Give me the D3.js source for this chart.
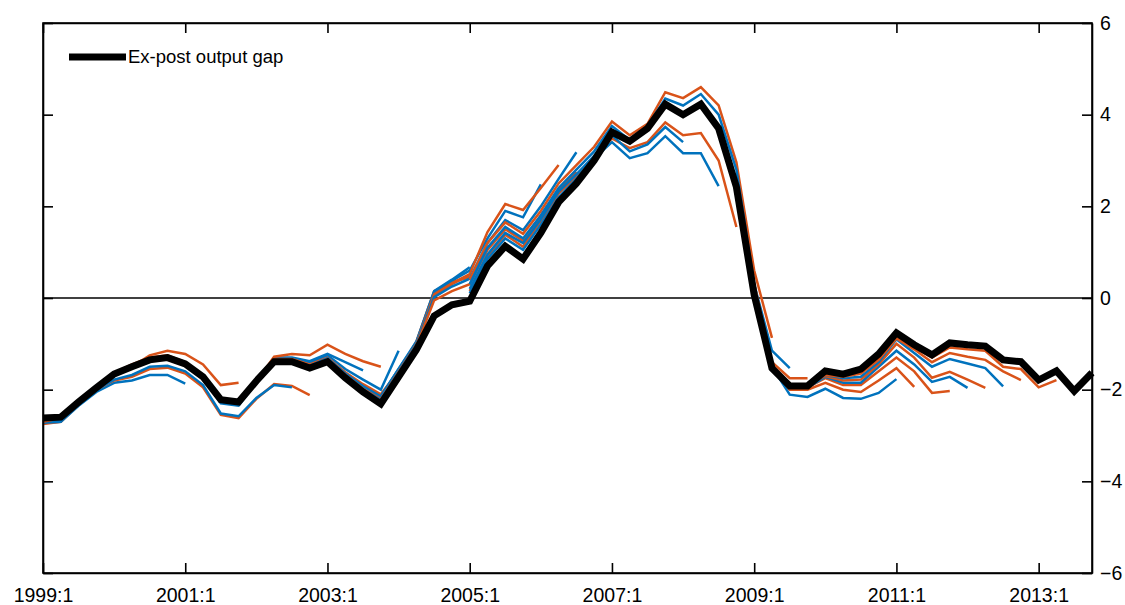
<!DOCTYPE html>
<html lang="en">
<head>
  <meta charset="UTF-8">
  <title>output gap vintages</title>
  <script src="https://d3js.org/d3.v7.min.js"></script>
  <style>
    body { margin: 0; padding: 0; background: #fff; }
    svg text { font-family: "Liberation Sans", Arial, sans-serif; }
  </style>
</head>
<body>
  <div id="chart"></div>
<script>
  // quarterly, 1999:1 .. 2013:4
  const startYear = 1999
  const nQuarters = 60
  const xTickLabels = ['1999:1', '2001:1', '2003:1', '2005:1', '2007:1', '2009:1', '2011:1', '2013:1']
  const yTicks = [-6, -4, -2, 0, 2, 4, 6]

  // ex-post output gap
  const gap = [-2.62, -2.6, -2.27, -1.96, -1.66, -1.5, -1.35, -1.3, -1.44, -1.72, -2.22, -2.27,
    -1.81, -1.39, -1.39, -1.53, -1.39, -1.74, -2.05, -2.31, -1.72, -1.13, -0.39, -0.15,
    -0.07, 0.7, 1.13, 0.85, 1.42, 2.09, 2.5, 3.0, 3.62, 3.42, 3.7, 4.23,
    4.0, 4.23, 3.7, 2.42, 0.07, -1.53, -1.92, -1.92, -1.59, -1.66, -1.55, -1.22,
    -0.76, -1.02, -1.24, -0.98, -1.02, -1.05, -1.35, -1.39, -1.79, -1.59, -2.03, -1.63]

  // real-time estimates: start quarter index, colour group, values
  const vintages = [
    { start: 0, c: 'o', v: [-2.72, -2.68, -2.3, -1.97, -1.68, -1.5, -1.25, -1.15, -1.22, -1.45, -1.9, -1.85] },
    { start: 0, c: 'b', v: [-2.72, -2.7, -2.35, -2.05, -1.85, -1.8, -1.68, -1.68, -1.87] },
    { start: 0, c: 'o', v: [-2.75, -2.7, -2.32, -2.0, -1.8, -1.72, -1.55, -1.52, -1.65, -1.95, -2.55, -2.62, -2.2, -1.88, -1.92, -2.12] },
    { start: 0, c: 'b', v: [-2.72, -2.7, -2.33, -2.0, -1.78, -1.68, -1.5, -1.48, -1.6, -1.9, -2.52, -2.58, -2.18, -1.9, -1.95] },
    { start: 0, c: 'b', v: [-2.7, -2.65, -2.3, -1.95, -1.65, -1.5, -1.35, -1.32, -1.45, -1.72, -2.3, -2.35, -1.85, -1.3, -1.3, -1.38, -1.22, -1.4, -1.58] },
    { start: 0, c: 'o', v: [-2.7, -2.62, -2.28, -1.95, -1.63, -1.45, -1.3, -1.25, -1.4, -1.7, -2.25, -2.3, -1.82, -1.28, -1.22, -1.25, -1.02, -1.22, -1.38, -1.5] },
    { start: 12, c: 'b', v: [-1.8, -1.35, -1.32, -1.42, -1.25, -1.55, -1.78, -2.0, -1.15] },
    { start: 12, c: 'o', v: [-1.8, -1.33, -1.33, -1.45, -1.3, -1.62, -1.88, -2.1, -1.6, -0.95, 0.15, 0.35, 0.45] },
    { start: 12, c: 'b', v: [-1.8, -1.35, -1.35, -1.48, -1.32, -1.65, -1.92, -2.15, -1.55, -0.95, 0.15, 0.4, 0.67] },
    { start: 12, c: 'o', v: [-1.8, -1.37, -1.37, -1.5, -1.35, -1.68, -1.98, -2.2, -1.62, -1.0, 0.05, 0.3, 0.5] },
    { start: 12, c: 'b', v: [-1.8, -1.36, -1.36, -1.48, -1.32, -1.65, -1.95, -2.15, -1.55, -0.98, 0.12, 0.38, 0.6, 1.3, 1.9, 1.76, 2.48] },
    { start: 12, c: 'o', v: [-1.8, -1.37, -1.38, -1.5, -1.34, -1.68, -1.98, -2.2, -1.6, -1.0, 0.08, 0.32, 0.52, 1.44, 2.05, 1.92, 2.4, 2.9] },
    { start: 12, c: 'b', v: [-1.8, -1.38, -1.38, -1.5, -1.35, -1.7, -2.0, -2.22, -1.62, -1.02, 0.02, 0.25, 0.42, 1.2, 1.7, 1.48, 2.0, 2.6, 3.18] },
    { start: 12, c: 'o', v: [-1.8, -1.38, -1.39, -1.52, -1.37, -1.72, -2.02, -2.25, -1.65, -1.05, -0.05, 0.15, 0.3, 1.05, 1.5, 1.25, 1.8, 2.35, 2.75] },
    { start: 24, c: 'o', v: [0.4, 1.2, 1.65, 1.4, 1.9, 2.5, 2.9, 3.3, 3.85, 3.55, 3.8, 4.49, 4.36, 4.6, 4.2, 2.96, 0.6, -0.87] },
    { start: 24, c: 'b', v: [0.3, 1.1, 1.55, 1.3, 1.8, 2.4, 2.8, 3.2, 3.75, 3.45, 3.75, 4.35, 4.2, 4.45, 4.0, 2.8, 0.3, -1.15, -1.53] },
    { start: 24, c: 'o', v: [0.15, 0.9, 1.38, 1.12, 1.68, 2.28, 2.65, 3.1, 3.48, 3.27, 3.4, 3.83, 3.55, 3.6, 3.0, 1.55] },
    { start: 24, c: 'b', v: [0.1, 0.85, 1.3, 1.05, 1.6, 2.2, 2.6, 3.05, 3.4, 3.05, 3.16, 3.53, 3.16, 3.16, 2.44] },
    { start: 24, c: 'b', v: [0.2, 0.95, 1.42, 1.2, 1.72, 2.32, 2.7, 3.1, 3.55, 3.2, 3.35, 3.73, 3.4] },
    { start: 38, c: 'o', v: [3.75, 2.55, 0.3, -1.4, -1.75, -1.75] },
    { start: 38, c: 'b', v: [3.75, 2.5, 0.1, -1.5, -2.11, -2.16, -1.98, -2.18, -2.2, -2.07, -1.77] },
    { start: 38, c: 'o', v: [3.75, 2.5, 0.1, -1.5, -2.0, -2.0, -1.85, -2.0, -2.05, -1.8, -1.53, -1.94] },
    { start: 38, c: 'o', v: [3.75, 2.5, 0.1, -1.5, -1.95, -1.95, -1.75, -1.9, -1.9, -1.6, -1.3, -1.6, -2.07, -2.03] },
    { start: 38, c: 'b', v: [3.75, 2.5, 0.1, -1.5, -1.95, -1.95, -1.72, -1.85, -1.85, -1.5, -1.15, -1.45, -1.83, -1.72, -1.96] },
    { start: 38, c: 'o', v: [3.75, 2.5, 0.1, -1.5, -1.9, -1.9, -1.7, -1.8, -1.78, -1.45, -1.0, -1.3, -1.74, -1.61, -1.78, -1.96] },
    { start: 38, c: 'b', v: [3.75, 2.5, 0.1, -1.5, -1.9, -1.9, -1.68, -1.75, -1.72, -1.4, -0.9, -1.2, -1.5, -1.33, -1.43, -1.53, -1.93] },
    { start: 38, c: 'o', v: [3.75, 2.5, 0.1, -1.5, -1.9, -1.9, -1.68, -1.72, -1.65, -1.35, -0.88, -1.12, -1.4, -1.2, -1.28, -1.35, -1.6, -1.79] },
    { start: 38, c: 'o', v: [3.75, 2.5, 0.1, -1.52, -1.88, -1.88, -1.62, -1.7, -1.6, -1.3, -0.85, -1.07, -1.3, -1.08, -1.12, -1.15, -1.5, -1.55, -1.95, -1.79] }
  ]

  const colors = { o: '#D95319', b: '#0072BD' }

  const W = 1125, H = 605
  const margin = { top: 23, right: 33, bottom: 32, left: 43 }

  const x = d3.scaleLinear().domain([0, nQuarters - 1]).range([margin.left, W - margin.right])
  const y = d3.scaleLinear().domain([-6, 6]).range([H - margin.bottom, margin.top])

  const svg = d3.select('#chart').append('svg')
    .attr('width', W).attr('height', H)

  const line = d3.line().x(d => x(d[0])).y(d => y(d[1]))

  // zero line
  svg.append('line')
    .attr('x1', x(0)).attr('x2', x(nQuarters - 1))
    .attr('y1', y(0)).attr('y2', y(0))
    .attr('stroke', '#000').attr('stroke-width', 1.5)

  svg.append('g').selectAll('path')
    .data(vintages)
    .join('path')
    .attr('d', d => line(d.v.map((v, i) => [d.start + i, v])))
    .attr('fill', 'none')
    .attr('stroke', d => colors[d.c])
    .attr('stroke-width', 2.5)

  svg.append('path')
    .attr('d', line(gap.map((v, i) => [i, v])))
    .attr('fill', 'none')
    .attr('stroke', '#000')
    .attr('stroke-width', 7)
    .attr('stroke-linejoin', 'miter')

  // axes: ticks point inward, box all round
  const xIdx = xTickLabels.map(s => (+s.split(':')[0] - startYear) * 4)
  const fs = 19.5

  svg.append('g')
    .attr('transform', `translate(0,${H - margin.bottom})`)
    .call(d3.axisBottom(x).tickValues(xIdx).tickFormat((d, i) => xTickLabels[i]).tickSizeInner(-10).tickSizeOuter(0).tickPadding(15))
    .call(g => g.selectAll('text').attr('font-size', fs).attr('fill', '#000'))
  svg.append('g')
    .attr('transform', `translate(0,${margin.top})`)
    .call(d3.axisTop(x).tickValues(xIdx).tickFormat('').tickSizeInner(-10).tickSizeOuter(0))
  svg.append('g')
    .attr('transform', `translate(${W - margin.right},0)`)
    .call(d3.axisRight(y).tickValues(yTicks).tickSizeInner(-10).tickSizeOuter(0).tickPadding(8))
    .call(g => g.selectAll('text').attr('font-size', fs).attr('fill', '#000'))
  svg.append('g')
    .attr('transform', `translate(${margin.left},0)`)
    .call(d3.axisLeft(y).tickValues(yTicks).tickFormat('').tickSizeInner(-10).tickSizeOuter(0))
  svg.selectAll('.domain, .tick line').attr('stroke', '#000').attr('stroke-width', 1.6)

  svg.append('rect')
    .attr('x', margin.left).attr('y', margin.top)
    .attr('width', W - margin.left - margin.right).attr('height', H - margin.top - margin.bottom)
    .attr('fill', 'none').attr('stroke', '#000').attr('stroke-width', 1.6)

  // legend
  svg.append('line')
    .attr('x1', 69).attr('x2', 126).attr('y1', 57).attr('y2', 57)
    .attr('stroke', '#000').attr('stroke-width', 7)
  svg.append('text')
    .attr('x', 128).attr('y', 63).attr('font-size', 18.5)
    .text('Ex-post output gap')
</script>
</body>
</html>
